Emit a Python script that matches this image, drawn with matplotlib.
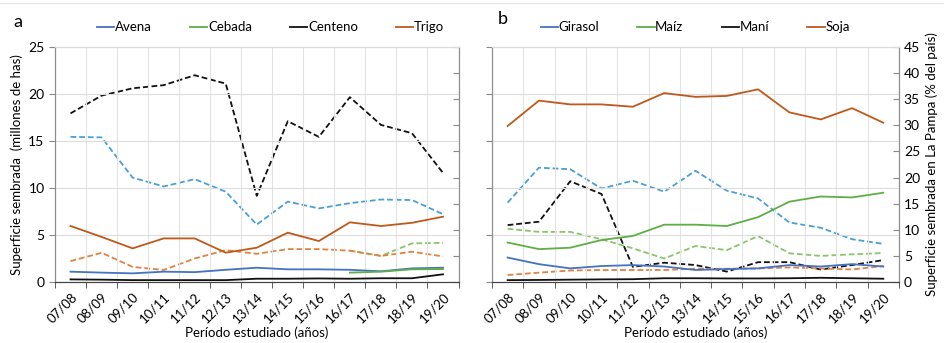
import matplotlib
matplotlib.use("Agg")
import matplotlib.pyplot as plt
from matplotlib.lines import Line2D
import numpy as np

plt.rcParams['font.family'] = ['Lato', 'DejaVu Sans']

periodos = ["07/08", "08/09", "09/10", "10/11", "11/12", "12/13", "13/14",
            "14/15", "15/16", "16/17", "17/18", "18/19", "19/20"]

# panel a - superficie (millones de ha), eje izquierdo
avena_sup = [1.1, 1.0, 0.92, 1.1, 1.05, 1.3, 1.52, 1.35, 1.35, 1.3, 1.14, 1.45, 1.52]
cebada_sup = [None] * 9 + [1.0, 1.1, 1.35, 1.38]
centeno_sup = [0.28, 0.25, 0.2, 0.2, 0.2, 0.2, 0.35, 0.35, 0.38, 0.35, 0.4, 0.4, 0.82]
trigo_sup = [5.96, 4.8, 3.58, 4.64, 4.64, 3.12, 3.65, 5.25, 4.36, 6.35, 5.96, 6.3, 6.95]
# panel a - % del pais en La Pampa, eje derecho
avena_pct = [27.8, 27.7, 20.0, 18.3, 19.7, 17.3, 11.0, 15.4, 14.1, 15.1, 15.8, 15.7, 13.0]
cebada_pct = [None] * 9 + [6.0, 5.0, 7.4, 7.5]
centeno_pct = [32.3, 35.7, 37.1, 37.7, 39.6, 38.0, 16.5, 30.8, 27.8, 35.4, 30.1, 28.5, 20.9]
trigo_pct = [4.0, 5.6, 2.9, 2.3, 4.5, 6.1, 5.4, 6.3, 6.3, 6.0, 5.0, 5.8, 4.9]

# panel b - superficie (millones de ha), eje izquierdo
girasol_sup = [2.6, 1.9, 1.45, 1.7, 1.8, 1.65, 1.28, 1.38, 1.45, 1.8, 1.65, 1.9, 1.65]
maiz_sup = [4.2, 3.5, 3.65, 4.47, 4.9, 6.1, 6.1, 5.96, 6.9, 8.55, 9.1, 9.0, 9.5]
mani_sup = [0.2, 0.22, 0.25, 0.28, 0.3, 0.4, 0.4, 0.38, 0.38, 0.4, 0.45, 0.4, 0.35]
soja_sup = [16.6, 19.3, 18.9, 18.9, 18.65, 20.1, 19.7, 19.8, 20.5, 18.05, 17.3, 18.5, 16.95]
# panel b - % del pais en La Pampa, eje derecho
girasol_pct = [15.2, 21.9, 21.6, 17.9, 19.4, 17.3, 21.3, 17.5, 16.0, 11.4, 10.4, 8.2, 7.3]
maiz_pct = [10.2, 9.6, 9.6, 8.2, 6.45, 4.5, 6.9, 6.1, 8.8, 5.5, 5.0, 5.3, 5.55]
mani_pct = [10.9, 11.55, 19.3, 16.85, 2.9, 3.7, 3.25, 2.0, 3.8, 3.8, 2.4, 3.25, 4.2]
soja_pct = [1.34, 1.8, 2.2, 2.3, 2.3, 2.3, 2.55, 2.55, 2.6, 2.8, 2.6, 2.4, 3.06]

def arr(v):
    return np.array([np.nan if x is None else x for x in v], dtype=float)

x = np.arange(len(periodos))
dash = (0, (3.2, 1.6))
lw = 1.3

fig = plt.figure(figsize=(9.45, 3.43), dpi=100)
fig.add_artist(Line2D([0, 1], [0.99, 0.99], color="#e6e6e6", lw=0.8))

def panel(rect, series, letra, letra_xy, leg_x, left_labels):
    ax = fig.add_axes(rect)
    ax2 = ax.twinx()
    ax.set_zorder(ax2.get_zorder() + 1)
    ax.patch.set_visible(False)
    for nombre, sup, pct, c1, c2 in series:
        ax.plot(x, arr(sup), color=c1, lw=lw, label=nombre)
        ax2.plot(x, arr(pct), color=c2, lw=lw, linestyle=dash)
    ax.set_xlim(-0.5, len(periodos) - 0.5)
    ax.set_ylim(0, 25)
    ax2.set_ylim(0, 45)
    ax.set_yticks(np.arange(0, 26, 5))
    ax2.set_yticks(np.arange(0, 46, 5))
    ax.set_xticks(x)
    ax.set_xticklabels(periodos, rotation=45, ha="right", rotation_mode="anchor", fontsize=9.5)
    ax.set_xticks(np.arange(-0.5, len(periodos)), minor=True)
    ax.tick_params(axis="x", which="major", length=0, pad=6)
    ax.tick_params(axis="x", which="minor", length=4, color="#444444", direction="out")
    ax.grid(True, axis="y", color="#dcdcdc", lw=0.8)
    ax.grid(True, axis="x", which="minor", color="#e3e3e3", lw=0.8)
    ax.tick_params(axis="y", length=4, color="#888888", labelsize=10, direction="out")
    ax2.tick_params(axis="y", length=4, color="#888888", labelsize=10, direction="in")
    if not left_labels:
        ax.set_yticklabels([])
        ax2.set_ylabel("Superficie sembrada en La Pampa (% del país)", fontsize=9.5)
    else:
        ax2.set_yticklabels([])
        ax.set_ylabel("Superficie sembrada  (millones de has)", fontsize=9.5)
    for a in (ax, ax2):
        for s in ("left", "right"):
            a.spines[s].set_color("#8c8c8c")
        a.spines["top"].set_color("#dcdcdc")
        a.spines["bottom"].set_color("#444444")
    ax.set_xlabel("Período estudiado (años)", fontsize=9.5, labelpad=1)
    ax.legend(loc="lower left", bbox_to_anchor=(leg_x, 1.025), ncol=4, frameon=False,
              fontsize=9.5, handlelength=1.3, handletextpad=0.05, columnspacing=2.9,
              borderaxespad=0.2)
    fig.text(letra_xy[0], letra_xy[1], letra, fontsize=13, ha="center", va="center")
    return ax, ax2

panel([0.0582, 0.1778, 0.427, 0.685], [
    ("Avena", avena_sup, avena_pct, "#4472c4", "#4a9fd5"),
    ("Cebada", cebada_sup, cebada_pct, "#5fae45", "#8cc46c"),
    ("Centeno", centeno_sup, centeno_pct, "#111111", "#111111"),
    ("Trigo", trigo_sup, trigo_pct, "#c0581a", "#e0823f"),
], "a", (0.019, 0.935), 0.085, True)

panel([0.5206, 0.1778, 0.4307, 0.685], [
    ("Girasol", girasol_sup, girasol_pct, "#4472c4", "#4a9fd5"),
    ("Maíz", maiz_sup, maiz_pct, "#5fae45", "#8cc46c"),
    ("Maní", mani_sup, mani_pct, "#111111", "#111111"),
    ("Soja", soja_sup, soja_pct, "#c0581a", "#e0823f"),
], "b", (0.532, 0.945), 0.1, False)

plt.savefig("out.png", dpi=100)
